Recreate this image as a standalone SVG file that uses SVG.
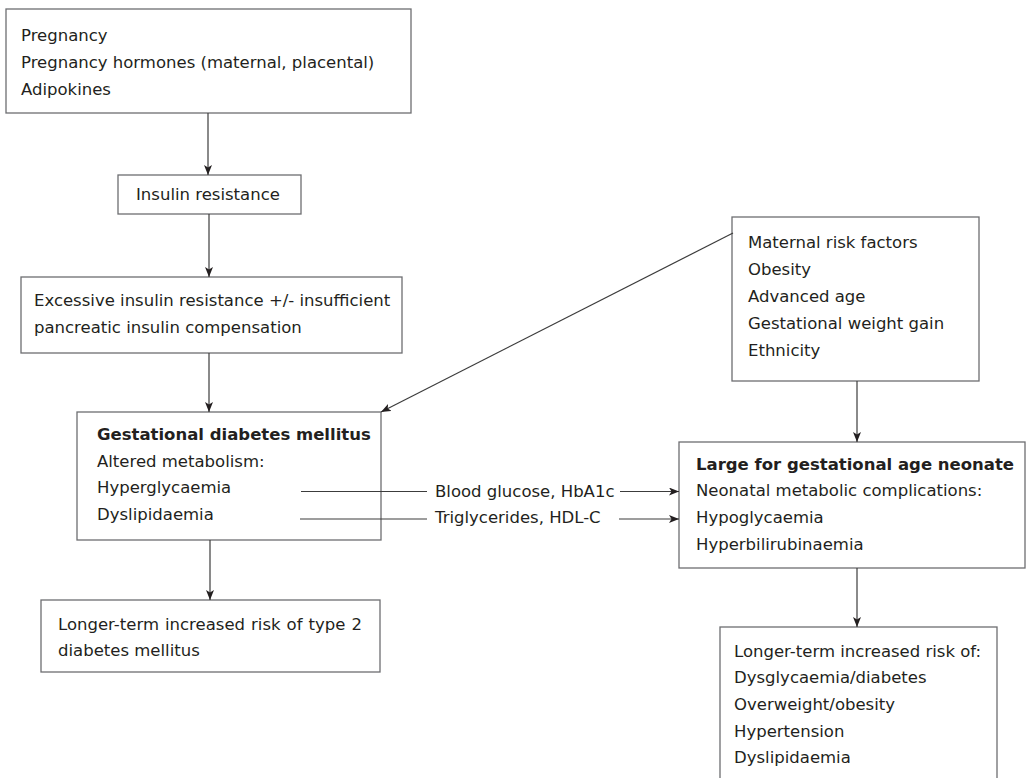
<svg xmlns="http://www.w3.org/2000/svg" width="1026" height="778" viewBox="0 0 1026 778">
<style>
.box{fill:#ffffff;stroke:#6d6e71;stroke-width:1.3}
.t{font-family:"DejaVu Sans","Liberation Sans",sans-serif;font-size:16.5px;fill:#231f20}
.b{font-weight:bold}
.c{stroke:#3c3c3c;stroke-width:1.2;fill:none}
</style>
<defs>
<marker id="ah" viewBox="0 0 10 8" refX="10" refY="4" markerWidth="10" markerHeight="8" markerUnits="userSpaceOnUse" orient="auto">
<path d="M0,0 L10,4 L0,8 L2.5,4 z" fill="#231f20"/>
</marker>
</defs>
<rect width="1026" height="778" fill="#ffffff"/>
<g id="n1">
<rect class="box" x="6" y="9" width="405" height="104"/>
<text class="t" x="21" y="41">Pregnancy</text>
<text class="t" x="21" y="68">Pregnancy hormones (maternal, placental)</text>
<text class="t" x="21" y="95">Adipokines</text>
</g>
<g id="n2">
<rect class="box" x="118" y="175" width="183" height="39"/>
<text class="t" x="136" y="200">Insulin resistance</text>
</g>
<g id="n3">
<rect class="box" x="21" y="277" width="381" height="76"/>
<text class="t" x="34" y="306">Excessive insulin resistance +/- insufficient</text>
<text class="t" x="34" y="333">pancreatic insulin compensation</text>
</g>
<g id="n4">
<rect class="box" x="77" y="412" width="304" height="128"/>
<text class="t b" x="97" y="440">Gestational diabetes mellitus</text>
<text class="t" x="97" y="467">Altered metabolism:</text>
<text class="t" x="97" y="493">Hyperglycaemia</text>
<text class="t" x="97" y="520">Dyslipidaemia</text>
</g>
<g id="n5">
<rect class="box" x="41" y="600" width="339" height="72"/>
<text class="t" x="58" y="630" word-spacing="0.8">Longer-term increased risk of type 2</text>
<text class="t" x="58" y="656">diabetes mellitus</text>
</g>
<g id="n6">
<rect class="box" x="732" y="217" width="247" height="164"/>
<text class="t" x="748" y="248">Maternal risk factors</text>
<text class="t" x="748" y="275">Obesity</text>
<text class="t" x="748" y="302">Advanced age</text>
<text class="t" x="748" y="329">Gestational weight gain</text>
<text class="t" x="748" y="356">Ethnicity</text>
</g>
<g id="n7">
<rect class="box" x="679" y="442" width="346" height="126"/>
<text class="t b" x="696" y="470">Large for gestational age neonate</text>
<text class="t" x="696" y="496">Neonatal metabolic complications:</text>
<text class="t" x="696" y="523">Hypoglycaemia</text>
<text class="t" x="696" y="550">Hyperbilirubinaemia</text>
</g>
<g id="n8">
<rect class="box" x="720" y="627" width="277" height="170"/>
<text class="t" x="734" y="657">Longer-term increased risk of:</text>
<text class="t" x="734" y="683">Dysglycaemia/diabetes</text>
<text class="t" x="734" y="710">Overweight/obesity</text>
<text class="t" x="734" y="737">Hypertension</text>
<text class="t" x="734" y="763">Dyslipidaemia</text>
</g>
<g id="connectors">
<line class="c" x1="208" y1="113" x2="208" y2="175" marker-end="url(#ah)"/>
<line class="c" x1="209" y1="214" x2="209" y2="277" marker-end="url(#ah)"/>
<line class="c" x1="209" y1="353" x2="209" y2="412" marker-end="url(#ah)"/>
<line class="c" x1="210" y1="540" x2="210" y2="600" marker-end="url(#ah)"/>
<line class="c" x1="733" y1="233" x2="381" y2="412" marker-end="url(#ah)"/>
<line class="c" x1="857" y1="381" x2="857" y2="442" marker-end="url(#ah)"/>
<line class="c" x1="857" y1="568" x2="857" y2="627" marker-end="url(#ah)"/>
<line class="c" x1="301" y1="491.5" x2="427" y2="491.5"/>
<line class="c" x1="620" y1="491.5" x2="679" y2="491.5" marker-end="url(#ah)"/>
<line class="c" x1="300" y1="519" x2="427" y2="519"/>
<line class="c" x1="619" y1="519" x2="679" y2="519" marker-end="url(#ah)"/>
<text class="t" x="435" y="497">Blood glucose, HbA1c</text>
<text class="t" x="435" y="523">Triglycerides, HDL-C</text>
</g>
</svg>
